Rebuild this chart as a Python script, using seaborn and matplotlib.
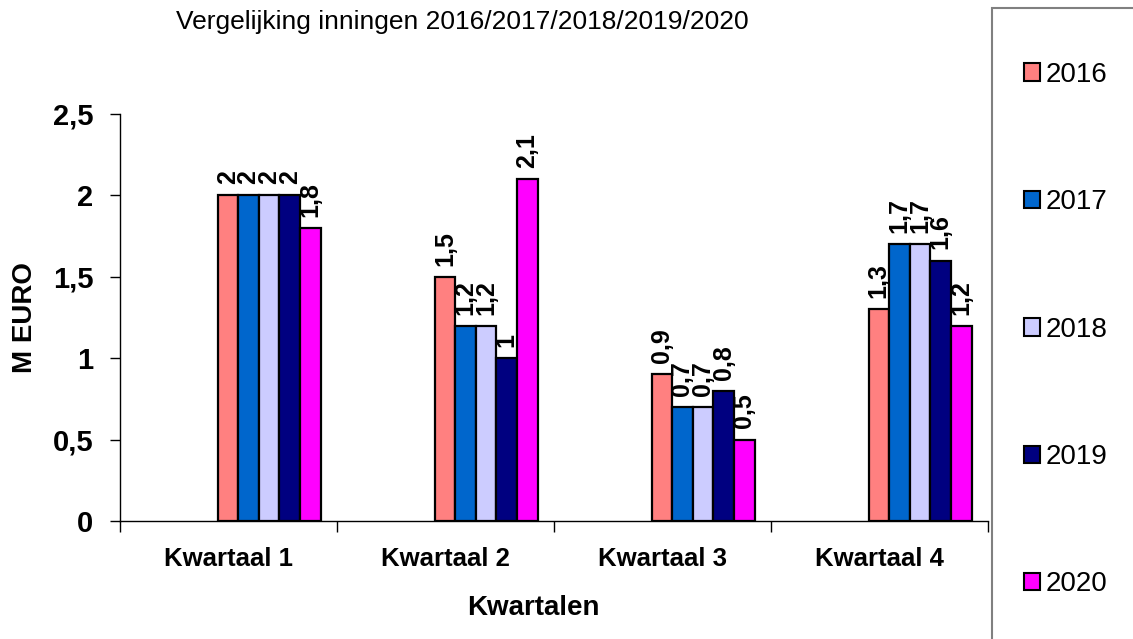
import pandas as pd
import matplotlib
matplotlib.use("Agg")
import matplotlib.pyplot as plt
import matplotlib.patches as mpatches
import seaborn as sns

# data
kwartalen = ["Kwartaal 1", "Kwartaal 2", "Kwartaal 3", "Kwartaal 4"]
jaren = ["2016", "2017", "2018", "2019", "2020"]
v2016 = [2, 1.5, 0.9, 1.3]
v2017 = [2, 1.2, 0.7, 1.7]
v2018 = [2, 1.2, 0.7, 1.7]
v2019 = [2, 1, 0.8, 1.6]
v2020 = [1.8, 2.1, 0.5, 1.2]
kleuren = ["#FF8080", "#0066CC", "#CCCCFF", "#000080", "#FF00FF"]

rows = []
for jaar, vals in zip(jaren, [v2016, v2017, v2018, v2019, v2020]):
    for k, v in zip(kwartalen, vals):
        rows.append({"kwartaal": k, "jaar": jaar, "waarde": v})
df = pd.DataFrame(rows)

sns.set_style("white")
plt.rcParams["font.family"] = ["Liberation Sans", "DejaVu Sans"]
plt.rcParams["text.color"] = "black"
plt.rcParams["axes.labelcolor"] = "black"
plt.rcParams["xtick.color"] = "black"
plt.rcParams["ytick.color"] = "black"

def komma(v):
    s = f"{v:g}"
    return s.replace(".", ",")

fig = plt.figure(figsize=(11.33, 6.39), dpi=100)
ax = fig.add_axes([0.1059, 0.1847, 0.7660, 0.6369])

sns.barplot(data=df, x="kwartaal", y="waarde", hue="jaar", order=kwartalen,
            hue_order=jaren, palette=kleuren, width=0.475, gap=0,
            edgecolor="black", linewidth=1.6, errorbar=None, legend=False,
            saturation=1, ax=ax)

# bars sit in the right half of each category in the original
for p in ax.patches:
    p.set_x(p.get_x() + 0.1875)

for cont in ax.containers:
    labs = [komma(b.get_height()) for b in cont]
    ax.bar_label(cont, labels=labs, rotation=90, padding=8,
                 fontsize=18, fontweight="bold")

ax.set_xlim(-0.5, 3.5)
ax.set_ylim(0, 2.5)
ax.set_yticks([0, 0.5, 1, 1.5, 2, 2.5])
ax.set_yticklabels([komma(t) for t in [0, 0.5, 1, 1.5, 2, 2.5]],
                   fontsize=21, fontweight="bold")
ax.set_xticks(range(4))
ax.set_xticklabels(kwartalen, fontsize=18.5, fontweight="bold")
ax.set_xticks([-0.5, 0.5, 1.5, 2.5, 3.5], minor=True)
ax.tick_params(axis="x", which="major", length=0, pad=18.5)
ax.tick_params(axis="x", which="minor", length=8, width=1, direction="out", bottom=True)
ax.tick_params(axis="y", length=7, width=1, direction="out", left=True, pad=12)

for s in ["top", "right"]:
    ax.spines[s].set_visible(False)
for s in ["left", "bottom"]:
    ax.spines[s].set_color("black")
    ax.spines[s].set_linewidth(1)

ax.set_xlabel("Kwartalen", fontsize=20, fontweight="bold")
ax.xaxis.set_label_coords(0.476, -0.183)
ax.set_ylabel("M EURO", fontsize=20, fontweight="bold")
ax.yaxis.set_label_coords(-0.095, 0.5)

fig.text(462 / 1133, 1 - 22 / 639, "Vergelijking inningen 2016/2017/2018/2019/2020",
         fontsize=19, ha="center", va="center")

# legend box running off the figure edge
fig.patches.append(mpatches.Rectangle((992 / 1133, -0.05), 0.2, 1 - 8 / 639 + 0.05,
                                      transform=fig.transFigure, facecolor="white",
                                      edgecolor="#808080", linewidth=1.5))
handles = [mpatches.Patch(facecolor=c, edgecolor="black", linewidth=1.5) for c in kleuren]
fig.legend(handles, jaren, loc="upper left", bbox_to_anchor=(1010 / 1133, 1 - 48 / 639),
           frameon=False, fontsize=20, labelspacing=3.65, handlelength=0.58,
           handleheight=0.58, handletextpad=0.2, borderpad=0)

fig.savefig("out.png", dpi=100)
